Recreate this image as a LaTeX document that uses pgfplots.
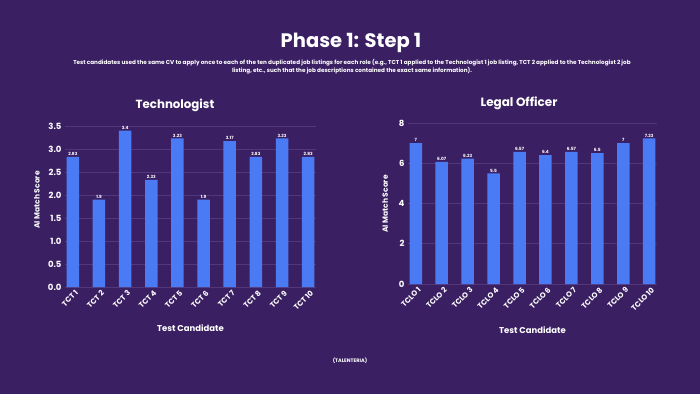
\documentclass[border=0pt]{standalone}
\usepackage{pgfplots}
\pgfplotsset{compat=1.18}
\usepackage{fontspec}
\setmainfont{Poppins}
\definecolor{bg}{RGB}{59,31,99}
\definecolor{bar}{RGB}{74,123,245}
\definecolor{gridc}{RGB}{82,56,122}
\pgfplotsset{
  mybars/.style={
    ybar, bar width=12.5pt, bar shift=0pt,
    scale only axis, anchor=south west,
    xmin=-0.3, xmax=9.3, ymin=0,
    axis line style={draw=none},
    major tick style={draw=none},
    ymajorgrids, grid style={gridc, line width=0.6pt},
    xtick=data,
    x tick label style={rotate=45, anchor=east, font=\fontsize{7.5}{8}\selectfont\bfseries, text=white, inner sep=0.5pt, yshift=-3pt, xshift=3pt},
    y tick label style={font=\fontsize{8.5}{9}\selectfont\bfseries, text=white},
    /pgf/number format/assume math mode=true,
    xlabel style={font=\fontsize{8.5}{9}\selectfont\bfseries, text=white},
    point meta=explicit symbolic,
    nodes near coords,
    nodes near coords style={font=\fontsize{4.3}{5}\selectfont\bfseries, text=white, inner sep=1pt},
    clip=false,
  }
}
\begin{document}
\begin{tikzpicture}
\fill[bg] (0pt,0pt) rectangle (700pt,394pt);
\node[text=white, font=\fontsize{19.5}{22}\selectfont\bfseries] at (351pt,351pt) {Phase 1: Step 1};
\node[text=white, align=center, font=\fontsize{5.7}{8}\selectfont\bfseries] at (352pt,327pt) {Test candidates used the same CV to apply once to each of the ten duplicated job listings for each role (e.g., TCT 1 applied to the Technologist 1 job listing, TCT 2 applied to the Technologist 2 job\\listing, etc., such that the job descriptions contained the exact same information).};
\node[text=white, font=\fontsize{11.8}{14}\selectfont\bfseries] at (175pt,289pt) {Technologist};
\node[text=white, font=\fontsize{12}{14}\selectfont\bfseries] at (519pt,291pt) {Legal Officer};
\node[text=white, rotate=90, font=\fontsize{7.5}{8}\selectfont\bfseries] at (37pt,194pt) {AI Match Score};
\node[text=white, rotate=90, font=\fontsize{7.5}{8}\selectfont\bfseries] at (385pt,190pt) {AI Match Score};
\node[text=white, font=\fontsize{5}{6}\selectfont\bfseries] at (350pt,33pt) {(TALENTERIA)};

\begin{axis}[mybars, at={(65pt,107pt)}, width=251pt, height=161pt,
  ymax=3.5, ytick={0,0.5,...,3.5},
  yticklabel style={/pgf/number format/.cd, fixed, fixed zerofill, precision=1},
  xticklabels={TCT 1,TCT 2,TCT 3,TCT 4,TCT 5,TCT 6,TCT 7,TCT 8,TCT 9,TCT 10},
  xlabel={Test Candidate}, xlabel style={at={(axis description cs:0.5,0)}, anchor=center, yshift=-41pt}]
\addplot[fill=bar, draw=none] coordinates {(0,2.83)[2.83] (1,1.9)[1.9] (2,3.4)[3.4] (3,2.33)[2.33] (4,3.23)[3.23] (5,1.9)[1.9] (6,3.17)[3.17] (7,2.83)[2.83] (8,3.23)[3.23] (9,2.83)[2.83]};
\end{axis}

\begin{axis}[mybars, at={(408pt,110pt)}, width=249pt, height=161pt,
  ymax=8, ytick={0,2,...,8},
  xticklabels={TCLO 1,TCLO 2,TCLO 3,TCLO 4,TCLO 5,TCLO 6,TCLO 7,TCLO 8,TCLO 9,TCLO 10},
  xlabel={Test Candidate}, xlabel style={at={(axis description cs:0.5,0)}, anchor=center, yshift=-46pt}]
\addplot[fill=bar, draw=none] coordinates {(0,7)[7] (1,6.07)[6.07] (2,6.23)[6.23] (3,5.5)[5.5] (4,6.57)[6.57] (5,6.4)[6.4] (6,6.57)[6.57] (7,6.5)[6.5] (8,7)[7] (9,7.23)[7.23]};
\end{axis}
\end{tikzpicture}
\end{document}
